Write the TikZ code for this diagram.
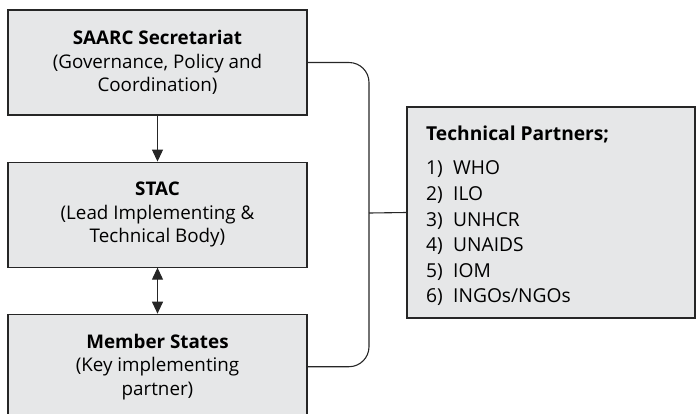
\documentclass[tikz,border=0pt]{standalone}
\usepackage{fontspec}
\setmainfont{Open Sans}
\usetikzlibrary{positioning, arrows.meta}
\definecolor{boxgray}{HTML}{E6E7E8}
\newcommand{\itm}[1]{\makebox[27pt][l]{#1}}
\tikzset{
    x=1pt, y=1pt,
    >={Triangle[length=12pt,width=11pt]},
    every box/.style={draw=black!85, fill=boxgray, line width=1.1pt,
        minimum width=299pt, minimum height=105pt, align=center,
        font=\fontsize{18.8}{23.5}\selectfont},
    link/.style={draw=black!85, line width=1.1pt}
}

\begin{document}
\begin{tikzpicture}
    % page frame
    \useasboundingbox (0,0) rectangle (696,-413);
    \node[every box] (sec) at (157.5,-62.5) {\textbf{SAARC Secretariat}\\(Governance, Policy and\\Coordination)};
    \node[every box, below=46pt of sec] (stac) {\textbf{STAC}\\(Lead Implementing \&\\Technical Body)};
    \node[every box, below=46pt of stac] (mem) {\textbf{Member States}\\(Key implementing\\partner)};
    \node[every box, minimum width=288pt, minimum height=211pt] (tp) at (551,-212.5) {};
    \node[anchor=north west, inner sep=0pt, align=left,
        font=\fontsize{19.2}{25.6}\selectfont] (tplist) at (426,-126)
        {\textbf{Technical Partners;}\\[8.6pt]
         \itm{1)}WHO\\\itm{2)}ILO\\\itm{3)}UNHCR\\\itm{4)}UNAIDS\\\itm{5)}IOM\\\itm{6)}INGOs/NGOs};
    \coordinate (bus) at (369,-213);
    \draw[link, ->] (sec) -- (stac);
    \draw[link, <->] (stac) -- (mem);
    \draw[link, rounded corners=20pt] (sec.east) -| (bus) |- (mem.east);
    \draw[link] (bus) -- (tp.west);
\end{tikzpicture}
\end{document}
